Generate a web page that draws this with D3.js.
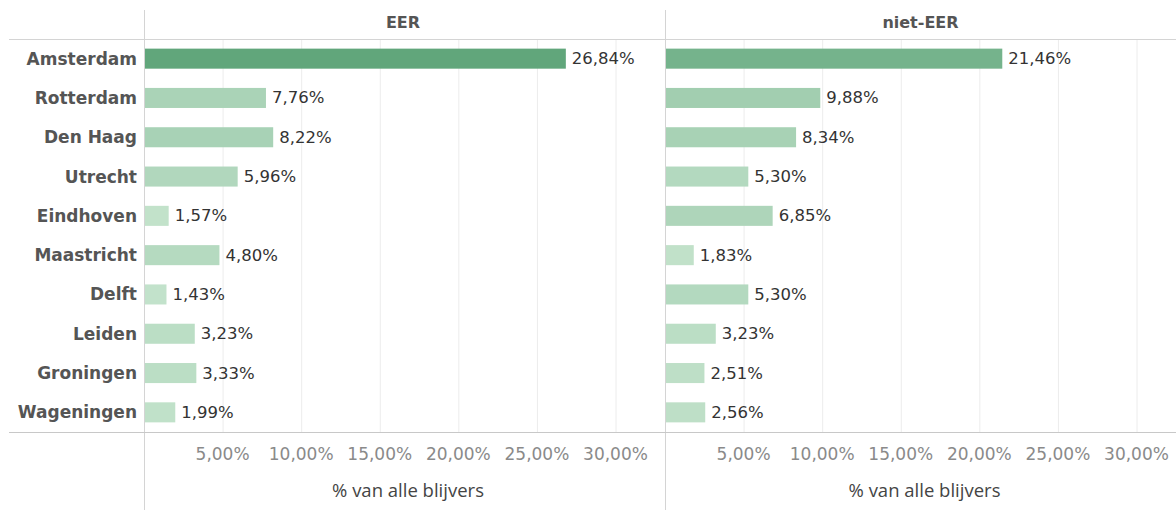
<!DOCTYPE html>
<html>
<head>
<meta charset="utf-8">
<script src="https://cdn.jsdelivr.net/npm/d3@7"></script>
<style>
  body { margin: 0; background: #fff; }
  svg { display: block; }
</style>
</head>
<body>
<div id="chart"></div>
<script>
// Data
const cities = ["Amsterdam", "Rotterdam", "Den Haag", "Utrecht", "Eindhoven", "Maastricht", "Delft", "Leiden", "Groningen", "Wageningen"];
const panels = ["EER", "niet-EER"];
const eerValues = [26.84, 7.76, 8.22, 5.96, 1.57, 4.80, 1.43, 3.23, 3.33, 1.99];
const nietEerValues = [21.46, 9.88, 8.34, 5.30, 6.85, 1.83, 5.30, 3.23, 2.51, 2.56];
const tickValues = [5, 10, 15, 20, 25, 30];
const axisTitle = "% van alle blijvers";

function main() {
    const width = 1176, height = 510;
    const headerTop = 10, headerBottom = 39, rowsBottom = 432;
    const panelLeft = [144, 665];
    const panelWidth = [508, 511];
    const titleShift = [10, 4];

    const fmt = v => v.toFixed(2).replace(".", ",") + "%";
    const series = [eerValues, nietEerValues];

    const svg = d3.select("#chart")
        .append("svg")
        .attr("width", width)
        .attr("height", height);

    // Band scale for the rows
    const y = d3.scaleBand()
        .domain(cities)
        .range([headerBottom, rowsBottom])
        .paddingInner(0.49)
        .paddingOuter(0.245);

    // Same x scale for both panels, shifted
    const x = d3.scaleLinear()
        .domain([0, 30])
        .range([0, 471.5]);

    // Colour scale on value
    const color = d3.scaleLinear()
        .domain([1, 27])
        .range(["#c4e3cc", "#60a67b"]);

    // Panels
    panels.forEach((name, i) => {
        const g = svg.append("g")
            .attr("transform", `translate(${panelLeft[i]},0)`);

        // gridlines
        g.append("g")
            .selectAll("line")
            .data(tickValues)
            .join("line")
            .attr("x1", d => x(d) + 0.5)
            .attr("x2", d => x(d) + 0.5)
            .attr("y1", headerBottom)
            .attr("y2", rowsBottom)
            .attr("stroke", "#ececec")
            .attr("stroke-width", 1);

        // header
        g.append("text")
            .attr("x", panelWidth[i] / 2 + (i === 0 ? 5 : 0))
            .attr("y", 23)
            .attr("text-anchor", "middle")
            .attr("dominant-baseline", "middle")
            .attr("font-family", "'DejaVu Sans', sans-serif")
            .attr("font-weight", "bold")
            .style("font-size", "16px")
            .attr("fill", "#555")
            .text(name);

        // bars
        g.append("g")
            .selectAll("rect")
            .data(series[i])
            .join("rect")
            .attr("x", 1)
            .attr("y", (d, j) => y(cities[j]))
            .attr("width", d => x(d) - 1)
            .attr("height", y.bandwidth())
            .attr("fill", d => color(d));

        // value labels
        g.append("g")
            .selectAll("text")
            .data(series[i])
            .join("text")
            .attr("x", d => x(d) + 6)
            .attr("y", (d, j) => y(cities[j]) + y.bandwidth() / 2 + 1)
            .attr("dominant-baseline", "middle")
            .attr("font-family", "'DejaVu Sans', sans-serif")
            .style("font-size", "16.5px")
            .attr("fill", "#333")
            .text(d => fmt(d));

        // tick labels
        g.append("g")
            .selectAll("text")
            .data(tickValues)
            .join("text")
            .attr("x", d => x(d))
            .attr("y", 455)
            .attr("text-anchor", "middle")
            .attr("dominant-baseline", "middle")
            .attr("font-family", "'DejaVu Sans', sans-serif")
            .style("font-size", "17px")
            .attr("fill", "#8a8a8a")
            .text(d => d.toFixed(2).replace(".", ",") + "%");

        // axis title
        g.append("text")
            .attr("x", panelWidth[i] / 2 + titleShift[i])
            .attr("y", 492)
            .attr("text-anchor", "middle")
            .attr("dominant-baseline", "middle")
            .attr("font-family", "'Open Sans', sans-serif")
            .style("font-size", "18.5px")
            .attr("fill", "#444")
            .text(axisTitle);

        // panel left border line
        g.append("line")
            .attr("x1", 0.5).attr("x2", 0.5)
            .attr("y1", headerTop).attr("y2", height)
            .attr("stroke", "#d4d4d4");
    });

    // row labels
    svg.append("g")
        .selectAll("text")
        .data(cities)
        .join("text")
        .attr("x", 137)
        .attr("y", d => y(d) + y.bandwidth() / 2 + 1)
        .attr("text-anchor", "end")
        .attr("dominant-baseline", "middle")
        .attr("font-family", "'DejaVu Sans', sans-serif")
        .attr("font-weight", "bold")
        .style("font-size", "17px")
        .attr("fill", "#555")
        .text(d => d);

    // header and bottom rules
    svg.append("line")
        .attr("x1", 9).attr("x2", width)
        .attr("y1", headerBottom + 0.5).attr("y2", headerBottom + 0.5)
        .attr("stroke", "#d4d4d4");
    svg.append("line")
        .attr("x1", 9).attr("x2", width)
        .attr("y1", rowsBottom + 0.5).attr("y2", rowsBottom + 0.5)
        .attr("stroke", "#c8c8c8");
}

main();
</script>
</body>
</html>
